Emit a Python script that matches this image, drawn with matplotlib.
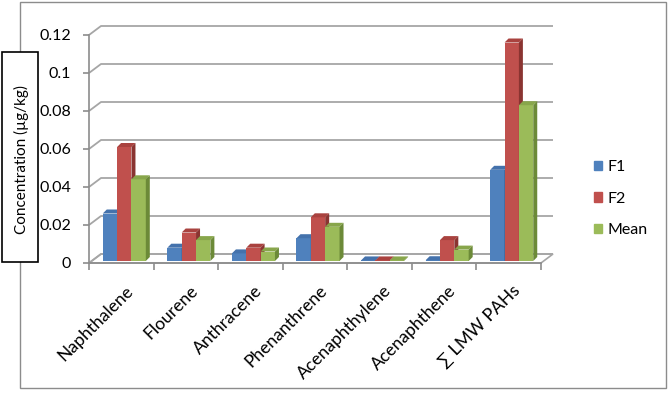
import matplotlib
matplotlib.use('Agg')
import matplotlib.pyplot as plt
from matplotlib.patches import Polygon, Rectangle, Patch
from matplotlib.transforms import ScaledTranslation
import numpy as np

# ---------------- data ----------------
categories = ['Naphthalene', 'Flourene', 'Anthracene', 'Phenanthrene',
              'Acenaphthylene', 'Acenaphthene', '\u2211 LMW PAHs']
series_names = ['F1', 'F2', 'Mean']
f1 = [0.025, 0.007, 0.004, 0.012, 0.0003, 0.0004, 0.048]
f2 = [0.060, 0.015, 0.007, 0.023, 0.0003, 0.011, 0.115]
mean = [0.043, 0.011, 0.005, 0.018, 0.0003, 0.006, 0.082]
yticks = [0, 0.02, 0.04, 0.06, 0.08, 0.1, 0.12]
ytick_labels = ['0', '0.02', '0.04', '0.06', '0.08', '0.1', '0.12']
ylabel = 'Concentration (\u00b5g/kg)'

front_colors = ['#4F81BD', '#C0504D', '#9BBB59']
top_colors = ['#4472AC', '#A9423F', '#88A64B']
side_colors = ['#35598A', '#8A3431', '#6C8A38']
grid_color = '#A6A6A6'

plt.rcParams['font.family'] = ['Lato', 'DejaVu Sans']

W, H = 671, 394
fig = plt.figure(figsize=(W / 100, H / 100), dpi=100)
L, R, T, B = 89, 541, 35, 263
ax = fig.add_axes([L / W, 1 - B / H, (R - L) / W, (B - T) / H])
n = len(categories)
ax.set_xlim(-0.5, n - 0.5)
ax.set_ylim(0, 0.12)
ax.patch.set_visible(False)

ux = (R - L) / n          # px per category
uy = (B - T) / 0.12       # px per unit value


def ddx(px):
    return px / ux


def ddy(px):
    return px / uy


# back wall / floor depth offset
bdx, bdy = ddx(12), ddy(9)
x0, x1 = -0.5, n - 0.5

floor = Polygon([(x0, 0), (x1, 0), (x1 + bdx, bdy), (x0 + bdx, bdy)],
                closed=True, fc='white', ec=grid_color, lw=1.2,
                clip_on=False, zorder=0.5)
ax.add_patch(floor)
for v in yticks:
    ax.plot([x0, x0 + bdx, x1 + bdx], [v, v + bdy, v + bdy],
            color=grid_color, lw=1.3, clip_on=False, zorder=1,
            solid_capstyle='butt')

# ---------------- bars ----------------
w = 1 / 4.5
bar_dx, bar_dy = ddx(3), ddy(2)     # bar position within depth
dep_x, dep_y = ddx(4), ddy(4)       # bar depth
xc = np.arange(n)
all_series = [f1, f2, mean]
for k, vals in enumerate(all_series):
    xs = xc + (k - 1) * w + bar_dx
    bars = ax.bar(xs, vals, w, bottom=bar_dy, color=front_colors[k],
                  linewidth=0, clip_on=False, label=series_names[k])
    for i, (p, v) in enumerate(zip(bars.patches, vals)):
        z = 5 + (i * 3 + k) * 0.1
        p.set_zorder(z)
        xl = p.get_x()
        xr = xl + p.get_width()
        yb = p.get_y()
        yt = yb + p.get_height()
        top = Polygon([(xl, yt), (xr, yt), (xr + dep_x, yt + dep_y),
                       (xl + dep_x, yt + dep_y)], closed=True,
                      fc=top_colors[k], lw=0, clip_on=False, zorder=z + 0.01)
        side = Polygon([(xr, yb), (xr + dep_x, yb + dep_y),
                        (xr + dep_x, yt + dep_y), (xr, yt)], closed=True,
                       fc=side_colors[k], lw=0, clip_on=False, zorder=z + 0.02)
        ax.add_patch(top)
        ax.add_patch(side)

# ---------------- axes ----------------
for s in ['top', 'right']:
    ax.spines[s].set_visible(False)
for s in ['left', 'bottom']:
    ax.spines[s].set_color('#8C8C8C')
    ax.spines[s].set_linewidth(1.2)
    ax.spines[s].set_zorder(2)

ax.set_yticks(yticks, ytick_labels)
ax.tick_params(axis='y', length=4, width=1.2, color='#8C8C8C', pad=9,
               labelsize=11.5, labelcolor='black')
ax.set_xticks(np.arange(n + 1) - 0.5)
ax.set_xticklabels([])
ax.tick_params(axis='x', which='major', length=5, width=1.2, color='#8C8C8C')
ax.set_xticks(xc, minor=True)
ax.set_xticklabels(categories, minor=True, rotation=45, ha='right',
                   va='center', rotation_mode='anchor', fontsize=12.6)
ax.tick_params(axis='x', which='minor', length=0, pad=18)
shift = ScaledTranslation(9 / 100, 0, fig.dpi_scale_trans)
for lab in ax.get_xticklabels(minor=True):
    lab.set_transform(lab.get_transform() + shift)

# ---------------- legend ----------------
handles = [Patch(color=c) for c in front_colors]
fig.legend(handles, series_names, loc='upper left',
           bbox_to_anchor=(588 / W, 1 - 154 / H), frameon=False,
           handlelength=0.5, handleheight=0.5, handletextpad=0.35,
           labelspacing=1.08, fontsize=11.5, borderaxespad=0)

# ---------------- frames & y label ----------------
fig.patches.append(Rectangle((20 / W, 1 - 388 / H), 646 / W, 386 / H,
                             transform=fig.transFigure, fc='none',
                             ec='#8C8C8C', lw=1.0, zorder=1))
fig.patches.append(Rectangle((2 / W, 1 - 262 / H), 36 / W, 210 / H,
                             transform=fig.transFigure, fc='white',
                             ec='black', lw=1.2, zorder=2))
fig.text(21 / W, 1 - 160 / H, ylabel, rotation=90, ha='center',
         va='center', fontsize=11, zorder=3)

fig.savefig('out.png', dpi=100)
